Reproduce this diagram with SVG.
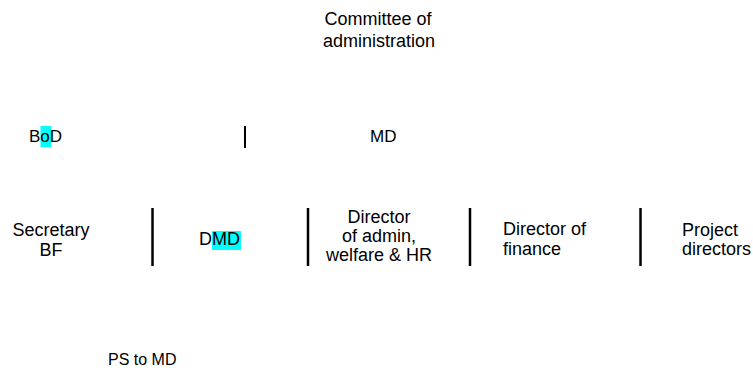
<svg xmlns="http://www.w3.org/2000/svg" width="753" height="372" viewBox="0 0 753 372">
<style>
text{font-family:"Liberation Sans",Arial,sans-serif;font-size:18px;fill:#000}
.c{text-anchor:middle}
.s{font-size:17px}
.hl{fill:#00ffff}
.sep{stroke:#000;stroke-width:2.5;fill:none}
</style>
<rect width="753" height="372" fill="#fff"/>
<g id="committee"><text class="c" x="378" y="25">Committee of</text><text class="c" x="379" y="47">administration</text></g>
<g id="bod"><rect class="hl" x="40.5" y="126" width="10.5" height="21"/><text class="s" x="29" y="142">BoD</text></g>
<g id="md"><text class="s" x="370" y="142">MD</text></g>
<g id="secretary"><text class="c" x="51" y="236">Secretary</text><text class="c" x="51" y="256">BF</text></g>
<g id="dmd"><rect class="hl" x="212" y="231" width="29" height="19"/><text x="199" y="245">DMD</text></g>
<g id="dir-admin"><text class="c" x="379" y="223">Director</text><text class="c" x="379" y="242">of admin,</text><text class="c" x="379" y="261">welfare &amp; HR</text></g>
<g id="dir-finance"><text x="503" y="235">Director of</text><text x="503" y="255">finance</text></g>
<g id="project"><text x="682" y="236">Project</text><text x="682" y="255">directors</text></g>
<g id="ps"><text x="108" y="365" style="font-size:16px">PS to MD</text></g>
<g id="connectors">
<line class="sep" x1="245" y1="126" x2="245" y2="148" style="stroke-width:2"/>
<line class="sep" x1="152.5" y1="208" x2="152.5" y2="266"/>
<line class="sep" x1="308" y1="208" x2="308" y2="266"/>
<line class="sep" x1="470" y1="208" x2="470" y2="266"/>
<line class="sep" x1="640.5" y1="208" x2="640.5" y2="266"/>
</g>
</svg>
